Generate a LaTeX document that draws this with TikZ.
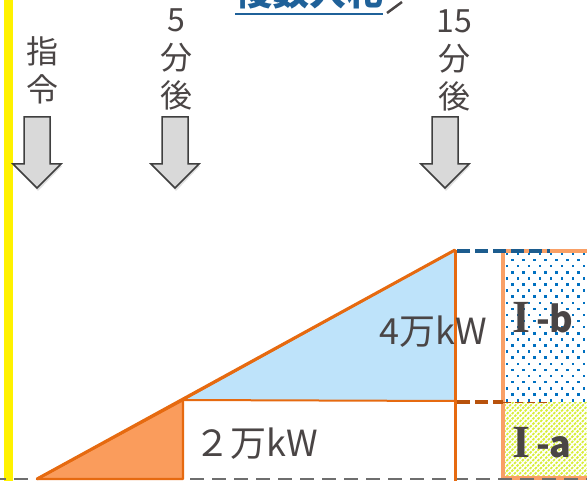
\documentclass[tikz,border=0pt]{standalone}
\usepackage{fontspec}
\newfontfamily\jp{Noto Sans CJK JP}
\newfontfamily\romanI{Liberation Serif}
\definecolor{txt}{HTML}{4A4545}
\definecolor{ora}{HTML}{E66A10}
\definecolor{oraf}{HTML}{FA9C5C}
\definecolor{oral}{HTML}{F9A066}
\definecolor{bluef}{HTML}{BEE3FA}
\definecolor{blued}{HTML}{1C5C8E}
\definecolor{brownd}{HTML}{B8520C}
\definecolor{dotb}{HTML}{0070C0}
\definecolor{ylw}{HTML}{D8EE3A}
\definecolor{titleb}{HTML}{1F6199}
\definecolor{arrf}{HTML}{D9D9D9}
\definecolor{arrd}{HTML}{3F3F3F}
\definecolor{grayd}{HTML}{6E6E6E}
\tikzset{
  lbl/.style={font={\jp\fontsize{32}{38}\selectfont}, text=txt, align=center, inner sep=0pt},
  big/.style={font={\jp\fontsize{36}{40}\selectfont}, text=txt, inner sep=0pt},
  boxlbl/.style={font={\jp\bfseries\fontsize{36}{40}\selectfont}, text=txt, inner sep=0pt},
  orline/.style={draw=ora, line width=3pt, line join=round},
  downarrow/.style={fill=arrf, draw=arrd, line width=1.5pt, line join=miter},
}
\newcommand{\bigI}{{\romanI\bfseries\fontsize{46}{46}\selectfont I}}
\begin{document}
\begin{tikzpicture}[x=1pt,y=-1pt]
\useasboundingbox (0,0) rectangle (587,481);
\clip (0,0) rectangle (587,481);
% yellow bar
\fill[yellow] (4,0) rectangle (13,481);

% title
\node[font={\jp\bfseries\fontsize{37}{40}\selectfont}, text=titleb, anchor=base, inner sep=0pt] (title) at (309,6) {複数入札};
\coordinate (ulA) at (235,14);
\coordinate (ulB) at (383,14);
\draw[titleb, line width=2.5pt] (ulA) -- (ulB);
\coordinate (tpA) at (387,13);
\coordinate (tpB) at (402,2);
\draw[txt, line width=2.5pt] (tpA) -- (tpB);

% labels
\node[lbl] (l0) at (43,70) {指\\令};
\node[lbl] (l1) at (176,59) {5\\分\\後};
\node[lbl] (l2) at (454,60) {15\\分\\後};

% arrows
\foreach \cx/\nm in {37/a0,175/a1,445/a2}{
  \fill[black, opacity=0.12] (\cx-12,119) -- (\cx+14,119) -- (\cx+14,166) -- (\cx+25,166) -- (\cx+1,191) -- (\cx-23,166) -- (\cx-12,166) -- cycle;
  \draw[downarrow] (\cx-13,117) -- (\cx+13,117) -- (\cx+13,164) -- (\cx+24,164) -- (\cx,188) -- (\cx-24,164) -- (\cx-13,164) -- cycle;
}

% boxes
\coordinate (bTL) at (503,251);
\coordinate (bMid) at (503,402);
\coordinate (bBL) at (503,478);
\begin{scope}
  \clip (503,251) rectangle (590,402);
  \fill[white] (503,251) rectangle (590,402);
  \foreach \r in {0,...,25}{
    \pgfmathsetmacro{\yy}{254+\r*6.1}
    \pgfmathsetmacro{\off}{mod(\r,2)*5.5}
    \foreach \c in {0,...,8}{
      \fill[dotb] ({507+\off+\c*11-1.2},{\yy-1.2}) rectangle ++(2.5,2.5);
    }
  }
\end{scope}
\begin{scope}
  \clip (503,402) rectangle (590,478);
  \fill[white] (503,402) rectangle (590,478);
  \foreach \k in {0,...,40}{
    \draw[ylw, line width=1.8pt, dash pattern=on 2.5pt off 1.2pt] ({503+\k*5.2-80},482) -- ++(84,-84);
  }
\end{scope}
\draw[oral, line width=3.5pt] (590,251) -- (bTL) -- (bBL) -- (590,478);
\node[boxlbl, anchor=base west] (Ib) at (512,333) {\bigI\hspace{6pt}-b};
\node[boxlbl, anchor=base west] (Ia) at (512,457) {\bigI\hspace{6pt}-a};

% bottom dashed baseline
\coordinate (g0) at (0,479);
\coordinate (g1) at (590,479);
\draw[grayd, line width=2.5pt, dash pattern=on 14pt off 8pt, dash phase=8pt] (g0) -- (g1);

% ramp shapes
\coordinate (p0) at (37,479);
\coordinate (p1) at (183,400);
\coordinate (p1b) at (183,479);
\coordinate (p2) at (455,250);
\coordinate (p2b) at (455,401);
\coordinate (p3) at (455,481);
\filldraw[fill=oraf, draw=ora, line width=2.4pt, line join=round] (p0) -- (p1) -- (p1b) -- cycle;
\filldraw[fill=bluef, draw=ora, line width=2pt, line join=round] (p1) -- (p2) -- (p2b) -- cycle;
\draw[orline] (p0) -- (p2);
\draw[orline] (p2) -- (p3);

% dashed extensions
\coordinate (bd0) at (457,251);
\coordinate (bd1) at (550,251);
\draw[blued, line width=3.2pt, dash pattern=on 13pt off 5pt] (bd0) -- (bd1);
\coordinate (rd0) at (457,402);
\coordinate (rd1) at (503,402);
\coordinate (rd2) at (550,402);
\draw[brownd, line width=3.2pt, dash pattern=on 13pt off 5pt] (rd0) -- (rd1);
\draw[brownd, line width=0.8pt, dash pattern=on 8pt off 4pt] (rd1) -- (rd2);

% values
\node[big] (v4) at (433,332) {4万kW};
\node[big] (v2) at (256,444) {２万kW};
\end{tikzpicture}
\end{document}
